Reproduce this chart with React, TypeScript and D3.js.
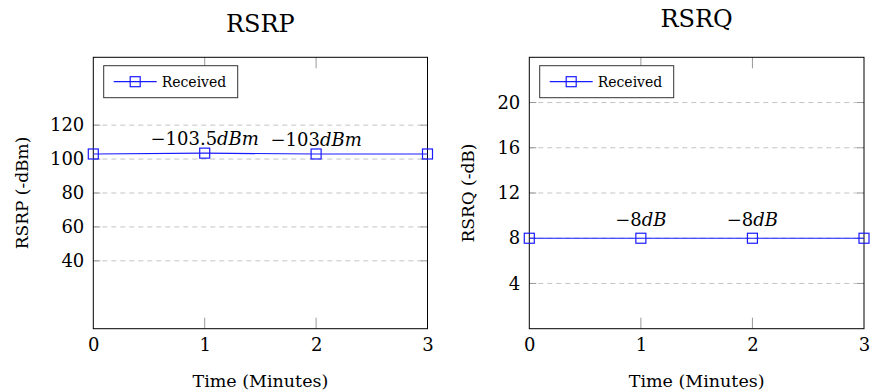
import React, { useRef, useEffect } from 'react';
import * as d3 from 'd3';

// data
const minutes = [0, 1, 2, 3];
const rsrpValues = [103, 103.5, 103, 103];
const rsrqValues = [8, 8, 8, 8];
const rsrpTicks = [40, 60, 80, 100, 120];
const rsrqTicks = [4, 8, 12, 16, 20];
const rsrpNotes = [
  { x: 1, num: '\u2212103.5', unit: 'dBm' },
  { x: 2, num: '\u2212103', unit: 'dBm' },
];
const rsrqNotes = [
  { x: 1, num: '\u22128', unit: 'dB' },
  { x: 2, num: '\u22128', unit: 'dB' },
];

const W = 870;
const H = 392;
const FONT = '"DejaVu Serif", serif';
const BLUE = '#1a1aff';

const panels = [
  {
    title: 'RSRP', yLabel: 'RSRP (-dBm)', values: rsrpValues, ticks: rsrpTicks, notes: rsrpNotes,
    yMax: 160, left: 93.3, right: 427.5, titleY: 31.5, yLabelX: 22, noteDy: -8,
  },
  {
    title: 'RSRQ', yLabel: 'RSRQ (-dB)', values: rsrqValues, ticks: rsrqTicks, notes: rsrqNotes,
    yMax: 24, left: 529.3, right: 864, titleY: 26.5, yLabelX: 468, noteDy: -12,
  },
];

const TOP = 57.3;
const BOTTOM = 328.7;

export default function App() {
  const ref = useRef<SVGSVGElement>(null);

  useEffect(() => {
    const svg = d3.select(ref.current);
    svg.selectAll('*').remove();

    panels.forEach((p) => {
      const g = svg.append('g');
      const x = d3.scaleLinear().domain([0, 3]).range([p.left, p.right]);
      const y = d3.scaleLinear().domain([0, p.yMax]).range([BOTTOM, TOP]);

      // 网格线
      g.selectAll('.grid')
        .data(p.ticks)
        .enter()
        .append('line')
        .attr('x1', p.left)
        .attr('x2', p.right)
        .attr('y1', (d) => y(d))
        .attr('y2', (d) => y(d))
        .attr('stroke', '#c4c4c4')
        .attr('stroke-width', 1)
        .attr('stroke-dasharray', '5,4');

      // y 刻度线 (两侧)
      p.ticks.forEach((t) => {
        g.append('line').attr('x1', p.left).attr('x2', p.left + 7)
          .attr('y1', y(t)).attr('y2', y(t)).attr('stroke', '#999');
        g.append('line').attr('x1', p.right - 7).attr('x2', p.right)
          .attr('y1', y(t)).attr('y2', y(t)).attr('stroke', '#999');
      });

      // x 刻度线 (上下)
      [1, 2].forEach((t) => {
        g.append('line').attr('x1', x(t)).attr('x2', x(t))
          .attr('y1', BOTTOM).attr('y2', BOTTOM - 11).attr('stroke', '#999');
        g.append('line').attr('x1', x(t)).attr('x2', x(t))
          .attr('y1', TOP).attr('y2', TOP + 11).attr('stroke', '#999');
      });

      // 坐标轴文字
      const yAxis = g.append('g')
        .attr('transform', `translate(${p.left},0)`)
        .call(d3.axisLeft(y).tickValues(p.ticks).tickSize(0).tickPadding(9));
      yAxis.select('.domain').remove();
      yAxis.selectAll('text')
        .attr('font-family', FONT)
        .attr('font-size', 18)
        .attr('fill', '#000');

      const xAxis = g.append('g')
        .attr('transform', `translate(0,${BOTTOM})`)
        .call(d3.axisBottom(x).tickValues(minutes).tickSize(0).tickPadding(10).tickFormat(d3.format('d')));
      xAxis.select('.domain').remove();
      xAxis.selectAll('text')
        .attr('font-family', FONT)
        .attr('font-size', 18)
        .attr('fill', '#000');

      // 边框
      g.append('rect')
        .attr('x', p.left)
        .attr('y', TOP)
        .attr('width', p.right - p.left)
        .attr('height', BOTTOM - TOP)
        .attr('fill', 'none')
        .attr('stroke', '#000')
        .attr('stroke-width', 1);

      // 折线
      const line = d3.line<number>()
        .x((d, i) => x(minutes[i]))
        .y((d) => y(d));
      g.append('path')
        .attr('d', line(p.values))
        .attr('fill', 'none')
        .attr('stroke', BLUE)
        .attr('stroke-width', 1.2);

      g.selectAll('.mark')
        .data(p.values)
        .enter()
        .append('rect')
        .attr('x', (d, i) => x(minutes[i]) - 5)
        .attr('y', (d) => y(d) - 5)
        .attr('width', 10)
        .attr('height', 10)
        .attr('fill', 'none')
        .attr('stroke', BLUE)
        .attr('stroke-width', 1.2);

      // 标注
      p.notes.forEach((n) => {
        const v = p.values[minutes.indexOf(n.x)];
        const t = g.append('text')
          .attr('x', x(n.x))
          .attr('y', y(v) + p.noteDy)
          .attr('text-anchor', 'middle')
          .attr('font-family', FONT)
          .attr('font-size', 18)
          .attr('fill', '#000');
        t.append('tspan').text(n.num);
        t.append('tspan').attr('font-style', 'italic').text(n.unit);
      });

      // 图例
      const lx = p.left + 10.4;
      const ly = 65.7;
      g.append('rect')
        .attr('x', lx).attr('y', ly).attr('width', 134).attr('height', 32)
        .attr('fill', '#fff').attr('stroke', '#333').attr('stroke-width', 1);
      g.append('line')
        .attr('x1', lx + 10).attr('x2', lx + 53).attr('y1', ly + 16).attr('y2', ly + 16)
        .attr('stroke', BLUE).attr('stroke-width', 1.2);
      g.append('rect')
        .attr('x', lx + 31.5 - 5).attr('y', ly + 16 - 5).attr('width', 10).attr('height', 10)
        .attr('fill', 'none').attr('stroke', BLUE).attr('stroke-width', 1.2);
      g.append('text')
        .attr('x', lx + 58).attr('y', ly + 21)
        .attr('font-family', FONT).attr('font-size', 14).attr('fill', '#000')
        .text('Received');

      // 标题
      g.append('text')
        .attr('x', (p.left + p.right) / 2)
        .attr('y', p.titleY)
        .attr('text-anchor', 'middle')
        .attr('font-family', FONT)
        .attr('font-size', 24)
        .attr('fill', '#000')
        .text(p.title);

      g.append('text')
        .attr('x', (p.left + p.right) / 2)
        .attr('y', 387)
        .attr('text-anchor', 'middle')
        .attr('font-family', FONT)
        .attr('font-size', 17.5)
        .attr('fill', '#000')
        .text('Time (Minutes)');

      g.append('text')
        .attr('transform', `translate(${p.yLabelX},${(TOP + BOTTOM) / 2}) rotate(-90)`)
        .attr('text-anchor', 'middle')
        .attr('dominant-baseline', 'central')
        .attr('font-family', FONT)
        .attr('font-size', 17)
        .attr('fill', '#000')
        .text(p.yLabel);
    });
  }, []);

  return (
    <div style={{ position: 'absolute', top: 0, left: 0 }}>
      <svg ref={ref} width={W} height={H} style={{ display: 'block', background: '#fff' }} />
    </div>
  );
}
